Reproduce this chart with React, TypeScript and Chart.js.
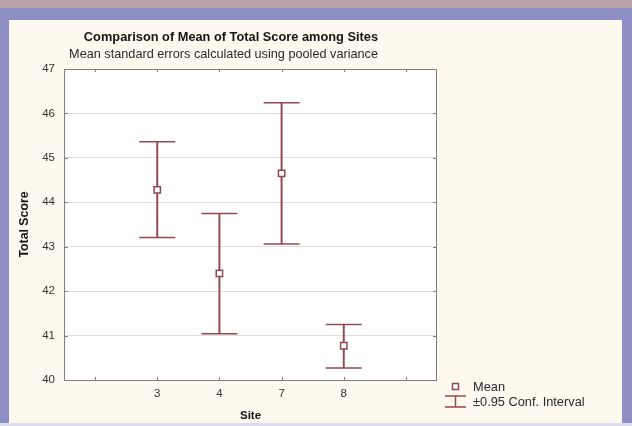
import React, { useEffect, useRef } from "react";
import { Chart, registerables } from "chart.js";

Chart.register(...registerables);

// ---- Data ----
const sites: string[] = ["3", "4", "7", "8"];
const means: number[] = [44.28, 42.40, 44.65, 40.77];
const lowerCI: number[] = [43.21, 41.04, 43.06, 40.27];
const upperCI: number[] = [45.36, 43.75, 46.24, 41.25];
const yTicks: number[] = [40, 41, 42, 43, 44, 45, 46, 47];

const titleText = "Comparison of Mean of Total Score among Sites";
const subtitleText = "Mean standard errors calculated using pooled variance";
const xTitle = "Site";
const yTitle = "Total Score";
const legendMean = "Mean";
const legendCI = "\u00B10.95 Conf. Interval";

const MAROON = "#944851";
const FONT = "Arial, 'Liberation Sans', sans-serif";

// pad categories with empty slots on both sides (as in the original)
const labels = ["", ...sites, ""];
const pad = (arr: any[]) => [null, ...arr, null];

const decorPlugin = {
  id: "decor",
  beforeDraw(chart: any) {
    const { ctx, chartArea } = chart;
    const W = chart.width;
    const H = chart.height;
    ctx.save();
    ctx.fillStyle = "#8f8fc7";
    ctx.fillRect(0, 0, W, H);
    ctx.fillStyle = "#bda3a9";
    ctx.fillRect(0, 0, W, 8);
    ctx.fillStyle = "#dcdcee";
    ctx.fillRect(0, 423, W, H - 423);
    ctx.fillStyle = "#fdf9ef";
    ctx.fillRect(9, 20, 613, 403);
    ctx.fillStyle = "#ffffff";
    ctx.fillRect(chartArea.left, chartArea.top, chartArea.right - chartArea.left, chartArea.bottom - chartArea.top);
    ctx.restore();
  },
  afterDraw(chart: any) {
    const { ctx, chartArea } = chart;
    const yScale = chart.scales.y;
    const xScale = chart.scales.x;
    ctx.save();
    // frame
    ctx.strokeStyle = "#7f7f7f";
    ctx.lineWidth = 1;
    ctx.strokeRect(chartArea.left + 0.5, chartArea.top + 0.5, chartArea.right - chartArea.left - 1, chartArea.bottom - chartArea.top);
    // inward tick marks
    ctx.beginPath();
    yTicks.forEach((v) => {
      const y = Math.round(yScale.getPixelForValue(v)) + 0.5;
      ctx.moveTo(chartArea.left, y);
      ctx.lineTo(chartArea.left + 4, y);
      ctx.moveTo(chartArea.right, y);
      ctx.lineTo(chartArea.right - 4, y);
    });
    labels.forEach((_, i) => {
      const x = Math.round(xScale.getPixelForValue(i)) + 0.5;
      ctx.moveTo(x, chartArea.bottom);
      ctx.lineTo(x, chartArea.bottom - 3);
      ctx.moveTo(x, chartArea.top);
      ctx.lineTo(x, chartArea.top + 3);
    });
    ctx.stroke();

    // titles
    ctx.fillStyle = "#141414";
    ctx.textAlign = "right";
    ctx.textBaseline = "middle";
    ctx.font = `bold 12.8px ${FONT}`;
    ctx.fillText(titleText, 378, 37);
    ctx.fillStyle = "#2a2a2a";
    ctx.font = `12.7px ${FONT}`;
    ctx.fillText(subtitleText, 378, 54);

    // legend
    ctx.strokeStyle = MAROON;
    ctx.lineWidth = 1.5;
    ctx.fillStyle = "#ffffff";
    ctx.beginPath();
    ctx.rect(452.5, 383.5, 6, 6);
    ctx.fill();
    ctx.stroke();
    ctx.beginPath();
    ctx.moveTo(445, 396);
    ctx.lineTo(466, 396);
    ctx.moveTo(455.5, 396);
    ctx.lineTo(455.5, 407);
    ctx.moveTo(445, 407);
    ctx.lineTo(466, 407);
    ctx.stroke();
    ctx.fillStyle = "#2a2a2a";
    ctx.textAlign = "left";
    ctx.font = `12.8px ${FONT}`;
    ctx.fillText(legendMean, 473, 387);
    ctx.fillText(legendCI, 473, 402);
    ctx.restore();
  },
};

export default function App() {
  const ref = useRef<HTMLCanvasElement>(null);
  useEffect(() => {
    document.body.style.margin = "0";
    const chart = new Chart(ref.current as HTMLCanvasElement, {
      type: "bar",
      data: {
        labels,
        datasets: [
          {
            type: "bar",
            label: "CI",
            data: pad(lowerCI.map((l, i) => [l, upperCI[i]])),
            backgroundColor: MAROON,
            barThickness: 1.3,
            order: 3,
          } as any,
          {
            type: "line",
            label: "upper",
            data: pad(upperCI),
            showLine: false,
            pointStyle: "line",
            pointRadius: 18,
            borderColor: MAROON,
            borderWidth: 1.5,
            order: 2,
          },
          {
            type: "line",
            label: "lower",
            data: pad(lowerCI),
            showLine: false,
            pointStyle: "line",
            pointRadius: 18,
            borderColor: MAROON,
            borderWidth: 1.5,
            order: 2,
          },
          {
            type: "line",
            label: "Mean",
            data: pad(means),
            showLine: false,
            pointStyle: "rect",
            pointRadius: 4.5,
            pointBackgroundColor: "#ffffff",
            pointBorderColor: MAROON,
            pointBorderWidth: 1.5,
            order: 1,
          },
        ],
      },
      options: {
        responsive: false,
        animation: false,
        layout: { padding: { left: 0, top: 69, right: 195, bottom: 0 } },
        plugins: {
          legend: { display: false },
          title: { display: false },
          tooltip: { enabled: false },
        },
        scales: {
          x: {
            type: "category",
            offset: true,
            grid: { display: false, drawTicks: false },
            border: { display: false },
            ticks: {
              color: "#333333",
              font: { family: FONT, size: 11.5 },
              padding: 7,
              maxRotation: 0,
              autoSkip: false,
            },
            title: {
              display: true,
              text: xTitle,
              color: "#141414",
              font: { family: FONT, size: 11.5, weight: "bold" },
              padding: { top: 0, bottom: 3.5 },
            },
            afterFit(scale: any) {
              scale.height = 46;
            },
          },
          y: {
            type: "linear",
            min: 40,
            max: 47,
            grid: { color: "#dedede", drawTicks: false, lineWidth: 1 },
            border: { display: false },
            afterBuildTicks(scale: any) {
              scale.ticks = yTicks.map((v) => ({ value: v }));
            },
            ticks: {
              color: "#333333",
              font: { family: FONT, size: 11.5 },
              padding: 9,
            },
            title: {
              display: true,
              text: yTitle,
              color: "#141414",
              font: { family: FONT, size: 12.3, weight: "bold" },
              padding: { top: 17.5, bottom: 0 },
            },
            afterFit(scale: any) {
              scale.width = 64;
            },
          },
        },
      },
      plugins: [decorPlugin],
    });
    return () => chart.destroy();
  }, []);
  return (
    <div style={{ position: "absolute", left: 0, top: 0, width: 632, height: 426 }}>
      <canvas ref={ref} width={632} height={426} />
    </div>
  );
}
